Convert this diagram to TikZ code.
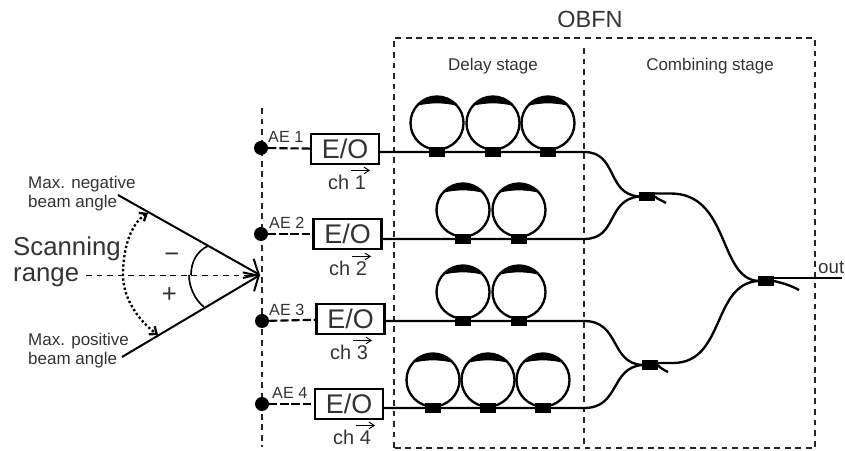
\documentclass[tikz,border=0pt]{standalone}
\usepackage{fontspec}
\setmainfont{Liberation Sans}
\usetikzlibrary{arrows.meta,calc}
\definecolor{inkgray}{gray}{0.2}
\tikzset{
  lbl/.style={inner sep=0pt,text=inkgray,font=\fontsize{#1}{#1}\selectfont},
  eobox/.style={draw,line width=1.8pt,minimum width=2.04cm,minimum height=0.9cm,inner sep=0pt,
    text=inkgray,font=\fontsize{23}{23}\selectfont},
  aedot/.style={circle,fill,minimum size=0.42cm,inner sep=0pt},
  ringloop/.style={circle,draw,line width=2pt,minimum size=1.59cm,inner sep=0pt,outer sep=0pt},
  coupler/.style={fill,minimum width=0.48cm,minimum height=0.28cm,inner sep=0pt,outer sep=0pt},
  fibre/.style={line width=2pt},
  bound/.style={line width=0.9pt,black!85,dash pattern=on 5pt off 4pt},
  beam/.style={line width=1.7pt},
  chvec/.style={line width=0.8pt,-{Straight Barb[length=1.6mm,width=2mm]}}
}
\begin{document}
\begin{tikzpicture}[x=0.03cm,y=0.03cm]
  \useasboundingbox (0,0) rectangle (845,450);
  % OBFN frame
  \coordinate (obfnsw) at (394,2);
  \coordinate (obfnne) at (815,412);
  \coordinate (stagetop) at (584,402);
  \coordinate (stagebot) at (584,2);
  \draw[bound] (obfnsw) rectangle (obfnne);
  \draw[bound] (stagetop) -- (stagebot);
  \node[lbl=20] (obfn) at (590,431) {OBFN};
  \node[lbl=14.5] (delay) at (493,384) {Delay stage};
  \node[lbl=14.5] (combining) at (710,384) {Combining stage};
  % array line
  \coordinate (arraytop) at (262,342);
  \coordinate (arraybot) at (262,3);
  \draw[bound] (arraytop) -- (arraybot);
  % antenna elements and E/O
  \foreach \n/\ax/\ay/\bx/\by/\tx/\cx/\cy in {
    1/261/302/345/301/268/328/268,
    2/261/216/347.5/216/269/329/182,
    3/262/129/350.5/131/269/330/98,
    4/262/46/349/46/272/333/13}{
    \node[aedot] (ae\n) at (\ax,\ay) {};
    \node[eobox] (eo\n) at (\bx,\by) {E/O};
    \draw[line width=1.8pt,dash pattern=on 7pt off 2.5pt] (ae\n) -- (eo\n);
    \node[lbl=13.8,anchor=west] (aelbl\n) at (\tx,\ay+11) {AE \n};
    \node[lbl=17,anchor=west] (ch\n) at (\cx,\cy) {ch \n};
    \draw[chvec] ($(ch\n.north east)+(-15,4)$) -- ++(19,0);
  }
  % delay rings
  \foreach \n/\cx/\cy/\fy in {
    a/437/327/298, b/493/327/298, c/548/327/298,
    d/463/240/211, e/519/240/211,
    f/463/158/129, g/519/158/129,
    h/433/70/42, i/488/70/42, j/543/70/42}{
    \node[ringloop] (ring\n) at (\cx,\cy) {};
    \fill (ring\n.140) arc (140:40:26.5) .. controls (\cx+8,\cy+20.5) and (\cx-8,\cy+20.5) .. (ring\n.140);
    \node[coupler] (cpl\n) at (\cx,\fy) {};
  }
  % combining stage
  \node[coupler] (cpltop) at (647,253.5) {};
  \node[coupler] (cplbot) at (650,85) {};
  \node[coupler] (cplout) at (766,169) {};
  \coordinate (bend1) at (584,298);
  \coordinate (bend2) at (584,211);
  \coordinate (bend3) at (584,129);
  \coordinate (bend4) at (584,42);
  \coordinate (tailtop) at (666,247);
  \coordinate (tailbot) at (668,78);
  \coordinate (tailout) at (799,160);
  \coordinate (outend) at (842,172);
  \draw[fibre] (eo1.east |- bend1) -- (bend1) .. controls (618,298) and (606,256) .. (cpltop.west);
  \draw[fibre] (eo2.east |- bend2) -- (bend2) .. controls (618,211) and (606,250) .. (cpltop.west);
  \draw[fibre] (eo3.east |- bend3) -- (bend3) .. controls (620,129) and (610,87) .. (cplbot.west);
  \draw[fibre] (eo4.east |- bend4) -- (bend4) .. controls (620,42) and (610,82) .. (cplbot.west);
  \draw[fibre] (cpltop.east) ++(0,3) -- ++(15,0) .. controls (730,257) and (718,172) .. (cplout.west);
  \draw[fibre] (cplbot.east) ++(0,2) -- ++(15,0) .. controls (725,87) and (712,166) .. (cplout.west);
  \draw[fibre] (cpltop.east) .. controls (657,251) and (661,250) .. (tailtop);
  \draw[fibre] (cplbot.east) .. controls (660,82) and (664,80) .. (tailbot);
  \draw[fibre] (cplout.east) .. controls (782,167) and (790,165) .. (tailout);
  \draw[fibre] (cplout.east) ++(0,3) -- (outend);
  \node[lbl=16,anchor=west] (outlbl) at (818,182) {out};
  % scanning range
  \coordinate (tip) at (260,175);
  \coordinate (negstart) at (118,255);
  \coordinate (posstart) at (122,93);
  \coordinate (rangestart) at (86,175);
  \coordinate (negend) at (148,237);
  \coordinate (posend) at (158,115);
  \coordinate (midarc) at (123,175);
  \coordinate (innerneg) at (208,204);
  \coordinate (innerpos) at (204,143);
  \draw[beam,-{Straight Barb[length=3.6mm,width=6.6mm]}] (negstart) -- (tip);
  \draw[beam,-{Straight Barb[length=3.6mm,width=6.6mm]}] (posstart) -- (tip);
  \draw[line width=0.8pt,dash pattern=on 5pt off 4pt] (rangestart) -- (tip);
  \draw[line width=2pt,dotted,{Straight Barb[length=1.8mm,width=3mm]}-{Straight Barb[length=1.8mm,width=3mm]}]
    (negend) .. controls (130,226) and (123,200) .. (midarc) .. controls (123,152) and (138,130) .. (posend);
  \draw[line width=1.4pt] (innerneg) .. controls (197,199) and (191,188) .. (191,175);
  \draw[line width=1.4pt] (innerpos) .. controls (195,150) and (189,163) .. (189,175);
  \node[lbl=22] (minus) at (172,192) {\textminus};
  \node[lbl=22] (plus) at (169.5,155) {+};
  \node[lbl=22,anchor=west] (scan) at (13,201) {Scanning};
  \node[lbl=22,anchor=west] (range) at (13,173) {range};
  \node[lbl=14.5,anchor=west] (maxneg) at (28,266) {Max. negative};
  \node[lbl=14.5,anchor=west] (angneg) at (28,247) {beam angle};
  \node[lbl=14.5,anchor=west] (maxpos) at (28,109) {Max. positive};
  \node[lbl=14.5,anchor=west] (angpos) at (28,90) {beam angle};
\end{tikzpicture}
\end{document}
